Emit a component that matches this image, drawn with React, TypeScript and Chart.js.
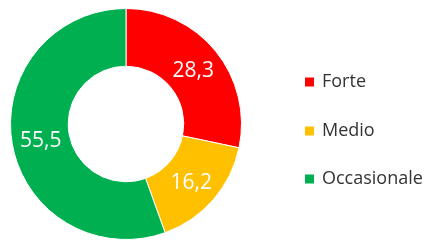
import React, { useEffect, useRef } from "react";
import { Chart, registerables } from "chart.js";

Chart.register(...registerables);

const categories = ["Forte", "Medio", "Occasionale"];
const values = [28.3, 16.2, 55.5];
const colors = ["#FF0000", "#FFC000", "#00B050"];

const sliceLabels = {
  id: "sliceLabels",
  afterDatasetsDraw(chart: any) {
    const ctx = chart.ctx;
    const meta = chart.getDatasetMeta(0);
    ctx.save();
    ctx.fillStyle = "#FFFFFF";
    ctx.font = "21px 'Open Sans'";
    ctx.textAlign = "center";
    ctx.textBaseline = "middle";
    meta.data.forEach((arc: any, i: number) => {
      const p = arc.tooltipPosition();
      const txt = values[i].toFixed(1).replace(".", ",");
      ctx.fillText(txt, p.x, p.y + 2);
    });
    ctx.restore();
  },
};

const sideLegend = {
  id: "sideLegend",
  afterDraw(chart: any) {
    const ctx = chart.ctx;
    ctx.save();
    ctx.font = "18px 'Open Sans'";
    ctx.textBaseline = "middle";
    ctx.textAlign = "left";
    const ys = [82, 131, 179];
    categories.forEach((c, i) => {
      ctx.fillStyle = colors[i];
      ctx.fillRect(305, ys[i] - 4.5, 9, 9);
      ctx.fillStyle = "#333333";
      ctx.fillText(c, 322, ys[i]);
    });
    ctx.restore();
  },
};

export default function App() {
  const ref = useRef<HTMLCanvasElement>(null);
  useEffect(() => {
    document.body.style.margin = "0";
    const chart = new Chart(ref.current!, {
      type: "doughnut",
      data: {
        labels: categories,
        datasets: [
          {
            data: values,
            backgroundColor: colors,
            borderColor: "#FFFFFF",
            borderWidth: 1,
          },
        ],
      },
      options: {
        animation: false,
        responsive: false,
        cutout: "50%",
        layout: { padding: { left: 10, right: 185, top: 8, bottom: 3 } },
        plugins: {
          legend: { display: false },
          tooltip: { enabled: false },
        },
      },
      plugins: [sliceLabels, sideLegend],
    });
    return () => chart.destroy();
  }, []);
  return (
    <div style={{ position: "absolute", left: 0, top: 0, width: 427, height: 243, background: "#fff" }}>
      <canvas ref={ref} width={427} height={243} />
    </div>
  );
}
